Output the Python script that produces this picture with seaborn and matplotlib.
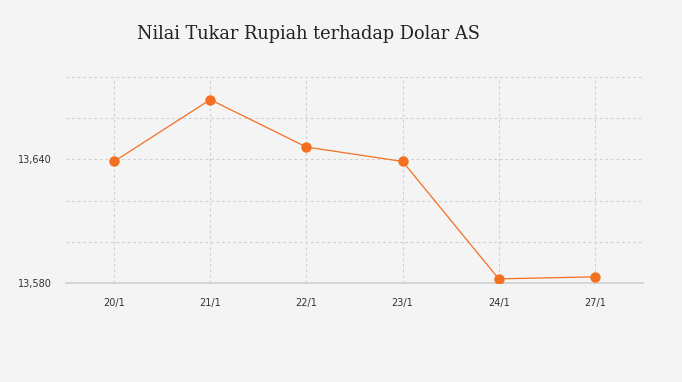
import matplotlib
matplotlib.use("Agg")
import matplotlib.pyplot as plt
import seaborn as sns
import pandas as pd

# Data
dates = ["20/1", "21/1", "22/1", "23/1", "24/1", "27/1"]
rates = [13639, 13669, 13646, 13639, 13582, 13583]

df = pd.DataFrame({"Tanggal": dates, "Kurs": rates})

bg = "#f4f4f4"
orange = "#f37021"
grid_color = "#d0d0d0"

sns.set_theme(style="white")
plt.rcParams["font.family"] = ["DejaVu Sans"]

fig = plt.figure(figsize=(6.82, 3.82), dpi=100, facecolor=bg)
ax = fig.add_axes([66 / 682, 99 / 382, 577 / 682, 206 / 382])
ax.set_facecolor(bg)

sns.lineplot(x="Tanggal", y="Kurs", data=df, ax=ax, color=orange,
             linewidth=0.9, marker="o", markersize=7.5, markeredgewidth=0,
             sort=False, zorder=3)

ax.set_xlim(-0.5, len(dates) - 0.5)
ax.set_ylim(13580, 13680)
ax.set_yticks([13580, 13600, 13620, 13640, 13660, 13680])
ax.set_yticklabels(["13,580", "", "", "13,640", "", ""])

ax.grid(True, axis="both", color=grid_color, linestyle=(0, (2.5, 2.5)), linewidth=0.8)
for side in ["top", "right", "left"]:
    ax.spines[side].set_visible(False)
ax.spines["bottom"].set_color("#cfcfcf")
ax.spines["bottom"].set_linewidth(1.2)
ax.spines["bottom"].set_zorder(1)

ax.tick_params(axis="both", length=0, labelsize=7, colors="#333333")
ax.tick_params(axis="x", pad=11)
ax.tick_params(axis="y", pad=10)
ax.set_xlabel("")
ax.set_ylabel("")

fig.text(308 / 682, 1 - 34 / 382, "Nilai Tukar Rupiah terhadap Dolar AS",
         ha="center", va="center", fontsize=12.8, color="#222222",
         family=["DejaVu Serif"])

fig.savefig("out.png", dpi=100, facecolor=bg)
